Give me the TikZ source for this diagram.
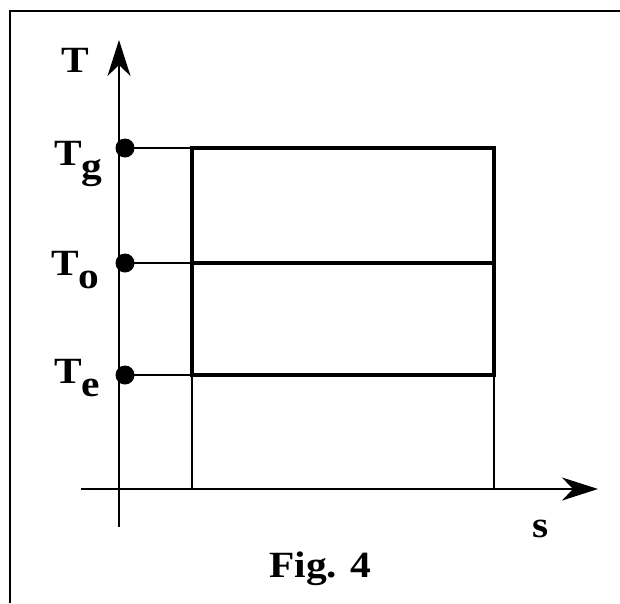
\documentclass[tikz,border=0pt]{standalone}
\usepackage{fontspec}
\setmainfont{Liberation Serif}
\usetikzlibrary{arrows.meta}
\newcommand{\wider}[1]{\scalebox{1.12}[1]{#1}}
\begin{document}
\begin{tikzpicture}[x=1pt,y=-1pt,
  lbl/.style={anchor=base west,inner sep=0pt,font=\fontsize{37}{40}\selectfont\bfseries},
  dotnode/.style={circle,fill=black,draw=none,inner sep=0pt,minimum size=19pt},
  frameline/.style={line width=2.7pt},
  axisline/.style={line width=2.4pt},
  thinline/.style={line width=2pt},
  boxline/.style={line width=4.8pt},
  axtip/.style={-{Stealth[length=36pt,width=23pt,inset=11pt]}}]
\useasboundingbox (0,0) rectangle (620,603);
% frame
\coordinate (fbl) at (10,603);
\coordinate (ftl) at (10,11);
\coordinate (ftr) at (620,11);
\draw[frameline] (fbl) -- (ftl) -- (ftr);
% axes
\coordinate (tbot) at (119,527);
\coordinate (ttip) at (119,40);
\draw[axisline,axtip] (tbot) -- (ttip);
\coordinate (sleft) at (81,489);
\coordinate (stip) at (598,489);
\draw[axisline,axtip] (sleft) -- (stip);
% rectangle corners
\coordinate (rgl) at (192,148);
\coordinate (rgr) at (494,148);
\coordinate (rol) at (192,263);
\coordinate (ror) at (494,263);
\coordinate (rel) at (192,375);
\coordinate (rer) at (494,375);
\coordinate (sl) at (192,489);
\coordinate (sr) at (494,489);
% dots
\node[dotnode] (dg) at (125,148) {};
\node[dotnode] (do) at (125,263) {};
\node[dotnode] (de) at (125,375) {};
% thin connectors
\draw[thinline] (dg.center) -- (rgl);
\draw[thinline] (do.center) -- (rol);
\draw[thinline] (de.center) -- (rel);
\draw[thinline] (rel) -- (sl);
\draw[thinline] (rer) -- (sr);
% thick rectangle
\draw[boxline,line join=miter] (rgl) -- (rgr) -- (rer) -- (rel) -- cycle;
\draw[boxline] (rol) -- (ror);
% labels
\node[lbl] (lT) at (61,72) {\wider{T}};
\node[lbl] (lTg) at (54,165) {\wider{T\raisebox{-13pt}{g}}};
\node[lbl] (lTo) at (51,275) {\wider{T\raisebox{-13pt}{o}}};
\node[lbl] (lTe) at (54,383) {\wider{T\raisebox{-13pt}{e}}};
\node[lbl] (ls) at (532,537) {\wider{s}};
\node[lbl] (lfig) at (269,577) {\wider{Fig. 4}};
\end{tikzpicture}
\end{document}
